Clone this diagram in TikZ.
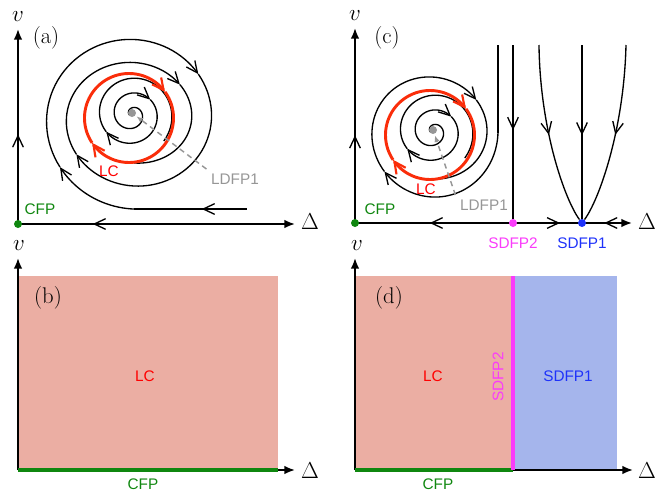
\documentclass[tikz,border=0pt]{standalone}
\usepackage{fontspec}
\setsansfont{Liberation Sans}
\usetikzlibrary{arrows.meta,decorations.markings,positioning}

\definecolor{lcred}{RGB}{250,45,10}
\definecolor{lcfill}{RGB}{235,174,163}
\definecolor{sdfill}{RGB}{165,181,236}
\definecolor{cfpgreen}{RGB}{15,135,15}
\definecolor{sdfptwo}{RGB}{250,60,250}
\definecolor{sdfpone}{RGB}{30,50,250}
\definecolor{ldfpgray}{RGB}{150,150,150}

% inner spiral and limit cycle, used in (a) and (c)
\newcommand{\lcspiral}{%
  \foreach \a/\b in {-200/321,321/506}
    \draw[flow,-{barb}] plot[domain=\a:\b,samples=90] ({132+(10.3+0.041*\x)*cos(\x)},{114.4+(10.3+0.041*\x)*sin(\x)});
  \draw[flow] plot[domain=506:760,samples=60] ({132+(10.3+0.041*\x)*cos(\x)},{114.4+(10.3+0.041*\x)*sin(\x)});
  \foreach \a/\b in {-36/146,146/324}
    \draw[lcline,-{lcbarb}] plot[domain=\a:\b,samples=60] ({129+44.5*cos(\x)},{118+44.5*sin(\x)});
}

\begin{document}
\begin{tikzpicture}[x=0.75pt, y=-0.75pt,
    barb/.tip={Straight Barb[length=8.5pt,width=8pt]},
    lcbarb/.tip={Straight Barb[length=8.5pt,width=8.5pt,line width=1.6pt]},
    axis/.style={line width=1.4pt, -{Latex[length=8pt,width=6.5pt]}},
    flow/.style={line width=1pt},
    lcline/.style={line width=2.2pt, lcred},
    fwdarrow/.style={postaction={decorate, decoration={markings,
      mark=at position #1 with {\arrow{Straight Barb[length=8.5pt,width=8pt,line width=1pt]}}}}},
    revarrow/.style={postaction={decorate, decoration={markings,
      mark=at position #1 with {\arrowreversed{Straight Barb[length=8.5pt,width=8pt,line width=1pt]}}}}},
    fp/.style={circle, inner sep=0pt, minimum size=6pt},
    lbl/.style={font=\sffamily\fontsize{11.5}{13}\selectfont},
    tag/.style={font=\fontsize{17}{20}\selectfont},
    ldfp/.style={ldfpgray, line width=1.1pt, dash pattern=on 4pt off 3pt,
      -{Latex[length=5pt,width=4pt]}, shorten >=1pt},
    band/.style={line width=3pt}]
  \useasboundingbox (0,0) rectangle (665,496);

  % ---- (a) ----
  \coordinate (oA) at (18,224);
  \coordinate (vA) at (18,29);
  \coordinate (dA) at (295,224);
  \coordinate (inA) at (247,209);
  \coordinate (bendA) at (134,209);
  \draw[axis, revarrow=0.27] (oA) -- (dA);
  \draw[axis, fwdarrow=0.46] (oA) -- (vA);
  \node[tag] at (18,17) {$v$};
  \node[tag] at (310,222) {$\Delta$};
  \node[tag] at (46,38) {(a)};

  \draw[flow, revarrow=0.6] (bendA) -- (inA);
  \foreach \a/\b in {90/146,146/324,324/506,506/680}
    \draw[flow,-{barb}] plot[domain=\a:\b,samples=50] ({134+(97.3-0.055*\x)*cos(\x)},{118.5+(96.3-0.064*\x)*sin(\x)});
  \draw[flow] plot[domain=680:810,samples=40] ({134+(97.3-0.055*\x)*cos(\x)},{118.5+(96.3-0.064*\x)*sin(\x)});
  \lcspiral

  \node[fp, fill=ldfpgray] (ldA) at (132,113) {};
  \node[lbl, text=ldfpgray] (ldlblA) at (235,179) {LDFP1};
  \draw[ldfp] (ldlblA.north west) -- (ldA);
  \node[lbl, text=red] at (109,171) {LC};
  \node[fp, fill=cfpgreen] (cfpA) at (oA) {};
  \node[lbl, text=cfpgreen] at (40,209) {CFP};

  % ---- (c) ----
  \coordinate (oC) at (355,223);
  \coordinate (vC) at (355,28);
  \coordinate (dC) at (632,223);
  \draw[axis, revarrow=0.27, fwdarrow=0.74, revarrow=0.9] (oC) -- (dC);
  \draw[axis, fwdarrow=0.45] (oC) -- (vC);
  \node[tag] at (355,16) {$v$};
  \node[tag] at (647,222) {$\Delta$};
  \node[tag] at (387,38) {(c)};

  \node[fp, fill=sdfptwo] (sdTwo) at (513,223) {};
  \node[fp, fill=sdfpone] (sdOne) at (582,223) {};
  \node[lbl, text=sdfptwo, below=4pt of sdTwo] {SDFP2};
  \node[lbl, text=sdfpone, below=4pt of sdOne] {SDFP1};

  \coordinate (topC) at (498,45);
  \coordinate (bendC) at (498,132.5);
  \coordinate (topTwo) at (513,45);
  \coordinate (topL) at (539,45);
  \coordinate (topM) at (582,45);
  \coordinate (topR) at (626,45);
  \draw[flow, fwdarrow=0.49] (topTwo) -- (sdTwo);
  \draw[flow, fwdarrow=0.52] (topM) -- (sdOne);
  \draw[flow, fwdarrow=0.5] (topL) .. controls (540,130) and (565,200) .. (sdOne);
  \draw[flow, fwdarrow=0.5] (topR) .. controls (624,130) and (599,200) .. (sdOne);

  \draw[flow] (topC) -- (bendC);
  \foreach \a/\b in {0/141,141/322}
    \draw[flow,-{barb}] plot[domain=\a:\b,samples=50] ({432.2+(65.8-0.0306*\x)*cos(\x)},{132.5+(69-0.05*\x)*sin(\x)});
  \draw[flow] plot[domain=322:450,samples=40] ({432.2+(65.8-0.0306*\x)*cos(\x)},{132.5+(69-0.05*\x)*sin(\x)});
  \begin{scope}[shift={(301,17)}]
    \lcspiral
  \end{scope}

  \node[fp, fill=ldfpgray] (ldC) at (433,130) {};
  \node[lbl, text=ldfpgray] (ldlblC) at (484,205) {LDFP1};
  \draw[ldfp] (ldlblC.north west) -- (ldC);
  \node[lbl, text=red] at (426,189) {LC};
  \node[fp, fill=cfpgreen] (cfpC) at (oC) {};
  \node[lbl, text=cfpgreen] at (380,209) {CFP};

  % ---- (b) ----
  \coordinate (oB) at (18,470);
  \fill[lcfill] (18,276) rectangle (278,470);
  \draw[axis] (oB) -- (18,258);
  \draw[axis] (oB) -- (295,470);
  \draw[band, cfpgreen] (oB) -- (278,470);
  \node[tag] at (19,246) {$v$};
  \node[tag] at (310,471) {$\Delta$};
  \node[tag] at (48,298) {(b)};
  \node[lbl, text=red] at (145,376) {LC};
  \node[lbl, text=cfpgreen] at (143,484) {CFP};

  % ---- (d) ----
  \coordinate (oD) at (355,470);
  \fill[lcfill] (355,276) rectangle (513,470);
  \fill[sdfill] (513,276) rectangle (617,470);
  \draw[axis] (oD) -- (355,258);
  \draw[axis] (oD) -- (633,470);
  \draw[band, cfpgreen] (oD) -- (513,470);
  \draw[band, sdfptwo] (513,276) -- (513,470);
  \node[tag] at (357,246) {$v$};
  \node[tag] at (647,471) {$\Delta$};
  \node[tag] at (389,298) {(d)};
  \node[lbl, text=red] at (433,376) {LC};
  \node[lbl, text=sdfpone] at (568,376) {SDFP1};
  \node[lbl, text=sdfptwo, rotate=90] at (498,377) {SDFP2};
  \node[lbl, text=cfpgreen] at (438,484) {CFP};
\end{tikzpicture}
\end{document}
